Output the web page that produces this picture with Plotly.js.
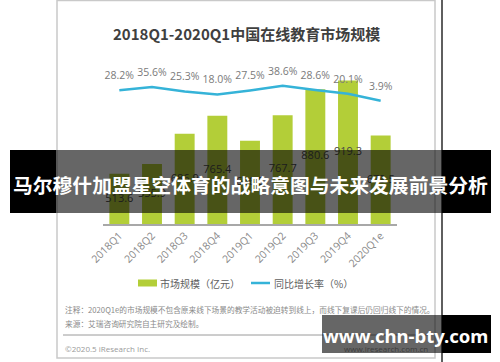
<!DOCTYPE html>
<html>
<head>
<meta charset="utf-8">
<script src="https://cdn.plot.ly/plotly-3.0.1.min.js"></script>
<style>
  html, body { margin: 0; padding: 0; background: #fff; }
  #chart { width: 500px; height: 362px; }
</style>
</head>
<body>
<div id="chart"></div>
<script>
// ---- data ----
var quarters = ['2018Q1', '2018Q2', '2018Q3', '2018Q4', '2019Q1', '2019Q2', '2019Q3', '2019Q4', '2020Q1e'];
var marketSize = [513.6, 555.9, 686.9, 765.4, 656.5, 767.7, 880.6, 919.3, 679.5];
var growthRate = [28.2, 35.6, 25.3, 18.0, 27.5, 38.6, 28.6, 20.1, 3.9];
var marketLabels = ['513.6', '555.9', '686.9', '765.4', '656.5', '767.7', '880.6', '919.3', '679.5'];
var growthLabels = ['28.2%', '35.6%', '25.3%', '18.0%', '27.5%', '38.6%', '28.6%', '20.1%', '3.9%'];

var titleText = '2018Q1-2020Q1中国在线教育市场规模';
var legendBar = '市场规模（亿元）';
var legendLine = '同比增长率（%）';
var noteText = '注释：2020Q1e的市场规模不包含原来线下场景的教学活动被迫转到线上，而线下复课后仍回归线下的情况。';
var sourceText = '来源：艾瑞咨询研究院自主研究及绘制。';
var copyText = '©2020.5 iResearch Inc.';
var siteText = 'www.iresearch.com.cn';
var bannerText = '马尔穆什加盟星空体育的战略意图与未来发展前景分析';
var watermarkText = 'www.chn-bty.com';

// ---- layout helpers (pixel -> paper) ----
var W = 500, H = 362;
var L = 103, R = 397, T = 60, B = 224;
function X(px) { return (px - L) / (R - L); }
function Y(py) { return (B - py) / (B - T); }

var yMin = 295, yMax = 1008;
var barColor = '#b3ce38';
var lineColor = '#35b3d8';
var cjk = '"Noto Sans CJK SC", "Noto Sans", sans-serif';

// bar value labels sit in the middle of the visible part of each bar
var labelY = marketSize.map(function (v) { return (yMin + v) / 2; });

var traces = [
  {
    type: 'bar',
    x: quarters,
    y: marketSize,
    marker: { color: barColor },
    hoverinfo: 'x+y'
  },
  {
    type: 'scatter',
    mode: 'text',
    x: quarters,
    y: labelY,
    text: marketLabels,
    textposition: 'middle center',
    textfont: { family: '"Open Sans", sans-serif', size: 11, color: '#4a4a4a' },
    hoverinfo: 'skip'
  },
  {
    type: 'scatter',
    mode: 'lines+markers+text',
    x: quarters,
    y: growthRate,
    yaxis: 'y2',
    text: growthLabels,
    textposition: 'top center',
    textfont: { family: '"Open Sans", sans-serif', size: 10.5, color: '#7a7a7a' },
    line: { color: lineColor, width: 2.5 },
    marker: { size: 12, color: 'rgba(0,0,0,0)' },
    cliponaxis: false
  }
];

var shapes = [
  // chart frame
  { type: 'rect', xref: 'paper', yref: 'paper', x0: X(57), x1: X(435), y0: Y(358), y1: Y(0.5),
    line: { color: '#c9c9c9', width: 1.5 }, layer: 'below' },
  // black vertical line at right
  { type: 'line', xref: 'paper', yref: 'paper', x0: X(442), x1: X(442), y0: Y(362), y1: Y(0),
    line: { color: '#2a2a2a', width: 1.5 }, layer: 'below' },
  // legend swatches
  { type: 'rect', xref: 'paper', yref: 'paper', x0: X(138), x1: X(157), y0: Y(286.5), y1: Y(279.5),
    fillcolor: barColor, line: { width: 0 } },
  { type: 'line', xref: 'paper', yref: 'paper', x0: X(251), x1: X(270), y0: Y(283), y1: Y(283),
    line: { color: lineColor, width: 2.5 } },
  // separator line
  { type: 'line', xref: 'paper', yref: 'paper', x0: X(63), x1: X(430), y0: Y(335), y1: Y(335),
    line: { color: '#9a9a9a', width: 1 } },
  // banner
  { type: 'rect', xref: 'paper', yref: 'paper', x0: X(10), x1: X(56), y0: Y(213), y1: Y(150),
    fillcolor: '#000', line: { width: 0 }, layer: 'above' },
  { type: 'rect', xref: 'paper', yref: 'paper', x0: X(56), x1: X(442), y0: Y(213), y1: Y(150),
    fillcolor: 'rgba(0,0,0,0.6)', line: { width: 0 }, layer: 'above' },
  { type: 'rect', xref: 'paper', yref: 'paper', x0: X(442), x1: X(491), y0: Y(213), y1: Y(150),
    fillcolor: '#000', line: { width: 0 }, layer: 'above' },
  // watermark box
  { type: 'rect', xref: 'paper', yref: 'paper', x0: X(322), x1: X(442), y0: Y(353), y1: Y(315),
    fillcolor: 'rgba(0,0,0,0.6)', line: { width: 0 }, layer: 'above' },
  { type: 'rect', xref: 'paper', yref: 'paper', x0: X(442), x1: X(491), y0: Y(353), y1: Y(315),
    fillcolor: '#000', line: { width: 0 }, layer: 'above' }
];

function ann(text, px, py, opts) {
  var a = { text: text, xref: 'paper', yref: 'paper', x: X(px), y: Y(py), showarrow: false,
            xanchor: 'left', yanchor: 'middle', font: { family: cjk, size: 10, color: '#666' } };
  for (var k in opts) a[k] = opts[k];
  return a;
}

var annotations = [
  ann('<b>' + titleText + '</b>', 246, 33, { xanchor: 'center', font: { family: cjk, size: 15, color: '#3f3f3f' } }),
  ann(legendBar, 158, 283, { font: { family: cjk, size: 10, color: '#606060' } }),
  ann(legendLine, 272, 283, { font: { family: cjk, size: 10, color: '#606060' } }),
  ann(noteText, 63, 309, { font: { family: cjk, size: 7.7, color: '#8a8a8a' } }),
  ann(sourceText, 63, 323, { font: { family: cjk, size: 7.7, color: '#8a8a8a' } }),
  ann(copyText, 63, 348, { font: { family: '"Open Sans", sans-serif', size: 8, color: '#9a9a9a' } }),
  ann(siteText, 430, 348, { xanchor: 'right', font: { family: '"Open Sans", sans-serif', size: 8, color: '#3c3c3c' } }),
  ann('<b>' + bannerText + '</b>', 250.5, 184, { xanchor: 'center', font: { family: cjk, size: 19.8, color: '#ffffff' } }),
  ann('<b>' + watermarkText + '</b>', 405, 335, { xanchor: 'center', font: { family: '"Noto Sans", sans-serif', size: 18.5, color: '#ffffff' } })
];

var layout = {
  width: W, height: H,
  margin: { l: L, r: W - R, t: T, b: H - B, pad: 0 },
  paper_bgcolor: '#ffffff',
  plot_bgcolor: 'rgba(0,0,0,0)',
  showlegend: false,
  bargap: 0.39,
  xaxis: {
    type: 'category',
    range: [-0.5, 8.5],
    showline: true, linecolor: '#a8a8a8', linewidth: 1.5,
    showgrid: false, zeroline: false,
    ticks: '', tickangle: -45,
    tickfont: { family: '"Open Sans", sans-serif', size: 10.5, color: '#8a8a8a' }
  },
  yaxis: {
    range: [yMin, yMax],
    visible: false, showgrid: false, zeroline: false, fixedrange: true
  },
  yaxis2: {
    overlaying: 'y', side: 'right',
    range: [-281.5, 98.1],
    visible: false, showgrid: false, zeroline: false
  },
  shapes: shapes,
  annotations: annotations
};

Plotly.newPlot('chart', traces, layout, { displayModeBar: false, staticPlot: true });
</script>
</body>
</html>
